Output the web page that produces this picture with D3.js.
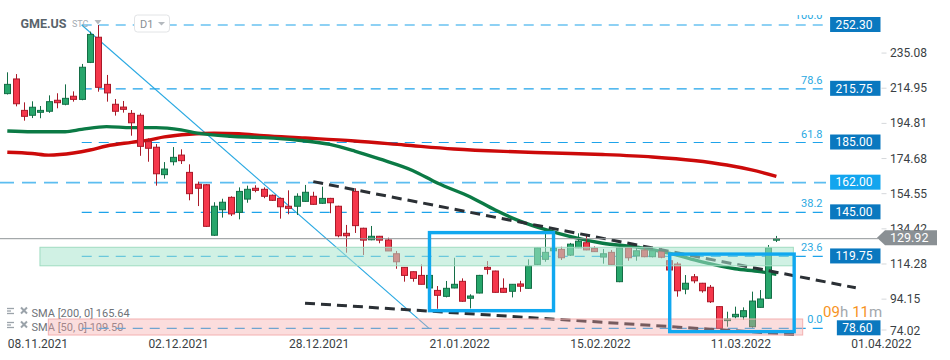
<!DOCTYPE html>
<html><head><meta charset="utf-8">
<script src="https://cdn.jsdelivr.net/npm/d3@7"></script>
<style>
body{margin:0;background:#fff;}
svg{display:block;font-family:Roboto,"Noto Sans",sans-serif;}
</style>
</head><body>
<svg id="c" width="950" height="360"></svg>
<script>
// ---------- data ----------
const ticker = "GME.US";
const opens  = [213.0,221.4,203.4,200.6,202.3,202.9,209.2,206.9,211.5,209.7,230.9,245.3,218.3,206.9,205.3,201.7,200.6,185.5,182.3,166.6,174.0,177.8,167.9,161.1,160.8,131.9,146.5,153.6,145.0,152.6,158.8,158.2,154.8,153.0,148.5,148.5,151.3,154.2,150.2,153.0,148.5,133.0,157.0,135.9,129.3,131.3,129.2,121.3,113.5,111.0,108.9,101.7,100.3,96.9,101.7,105.5,95.8,98.8,113.5,111.4,101.5,99.8,104.0,101.5,115.2,118.1,123.0,123.8,120.5,124.7,127.6,124.4,119.4,122.1,105.3,124.7,120.0,123.4,119.6,122.5,117.3,115.4,101.0,108.1,104.4,102.1,91.0,83.0,85.2,85.2,79.5,90.6,95.8,129.5];
const highs  = [225.2,224.2,208.0,208.6,205.9,212.0,213.2,218.3,214.3,230.0,248.5,252.3,223.7,209.9,208.8,203.6,201.7,187.4,184.1,173.8,182.4,181.1,172.5,162.6,161.2,150.8,152.8,154.2,159.3,160.3,160.5,159.3,155.2,153.5,157.6,155.9,160.7,156.8,159.7,153.3,148.8,137.8,158.8,136.2,137.2,131.5,130.5,122.9,113.7,111.2,115.2,108.9,102.8,105.7,119.0,107.2,98.1,109.2,117.1,111.6,107.2,103.9,105.8,118.1,125.0,133.0,125.0,125.3,127.5,133.0,131.5,125.5,124.0,123.4,124.9,124.9,125.3,125.0,123.6,124.6,117.6,116.5,109.1,109.7,104.6,103.4,91.2,88.1,91.0,90.6,99.6,100.5,126.3,131.5];
const lows   = [212.5,205.7,197.5,199.0,198.9,202.0,204.6,206.3,208.4,209.2,230.5,214.1,208.4,200.4,202.1,188.9,177.4,174.0,160.3,164.3,171.9,172.7,151.9,148.6,136.6,131.5,142.0,142.9,141.0,150.5,156.5,153.1,151.5,141.4,143.9,143.5,151.0,149.3,149.8,144.5,130.7,121.9,133.2,120.6,129.0,127.3,122.9,112.7,105.3,105.3,103.8,101.5,89.8,96.3,101.5,93.8,90.0,98.6,109.5,99.0,99.0,96.3,99.5,101.3,114.8,116.7,122.4,117.7,120.0,124.5,123.3,122.3,115.6,115.0,105.0,117.3,117.3,119.3,119.2,118.7,111.8,96.7,98.1,104.4,99.0,93.1,78.6,79.5,84.3,83.4,79.0,90.4,95.6,128.0];
const closes = [218.3,207.2,200.0,205.2,203.4,208.4,207.8,210.3,209.7,228.1,246.9,216.6,213.4,202.9,204.0,196.3,182.8,181.7,167.1,169.8,176.5,174.6,155.7,158.8,137.0,148.5,150.8,144.1,157.0,158.2,157.6,154.2,151.9,148.2,147.3,154.2,156.5,149.6,153.0,150.5,131.6,131.6,137.4,129.1,131.3,129.1,122.9,116.7,108.9,107.2,103.8,108.9,97.5,101.5,103.8,94.1,97.1,108.9,112.4,99.2,99.2,103.8,102.7,114.3,124.7,122.1,124.4,119.0,126.8,128.5,123.5,122.5,121.3,115.2,124.7,119.0,123.0,119.6,123.0,119.3,112.0,100.1,104.4,105.8,100.1,93.8,78.6,83.9,86.6,88.7,94.2,95.4,124.7,129.92];

const dateLabels   = ["08.11.2021","02.12.2021","28.12.2021","21.01.2022","15.02.2022","11.03.2022","01.04.2022"];
const dateLabelIdx = [0,17,34,51,68,85,102];
const yTicks = [235.08,214.95,194.81,174.68,154.55,134.42,114.28,94.15,74.02];

const fibLevels = ["100.0","78.6","61.8","38.2","23.6","0.0"];
const fibPrices = [252.30,215.75,185.00,145.00,119.75,78.60];
const fibStartIdx = 9, fibEndIdx = 51;       // fib anchor (high -> low)
const extraLevel = 162.00;
const lastPrice = 129.92;

const sma200Idx = [0,3,5,8,10,12,15,17,19,22,25,28,31,36,42,48,54,60,66,72,78,83,87,90,93];
const sma200Val = [179.4,178.7,177.8,179.0,180.7,183.0,185.1,186.4,188.2,189.7,190.3,190.0,188.9,187.6,185.9,183.6,181.3,179.9,179.0,178.1,176.7,174.7,172.1,169.3,165.64];
const sma50Idx  = [0,3,7,9,12,15,18,21,23,27,31,35,39,42,45,49,52,56,59,62,65,68,72,76,80,84,88,91,93];
const sma50Val  = [191.6,191.2,191.2,192.5,194.1,193.5,193.5,192.2,190.4,188.6,187.8,186.4,183.9,180.1,175.6,169.0,161.8,153.8,146.3,140.0,135.2,131.2,127.3,125.2,121.7,116.6,112.7,111.1,109.5];
const legendNames  = ["SMA [200, 0] 165.64","SMA [50, 0] 109.50"];

const trendUpperIdx = [37,102.6], trendUpperVal = [162.6,101.8];
const trendLowerIdx = [36,95.2],  trendLowerVal = [93.0,75.0];
const greenZoneIdx = [3.95,95.05], greenZoneVal = [125.0,114.4];
const redZoneIdx   = [4.96,96.18], redZoneVal   = [83.92,74.76];
const box1Idx = [51.05,66.05], box1Val = [133.4,88.7];
const box2Idx = [80.1,95.15],  box2Val = [121.1,76.7];
const timerParts = [["09","o"],["h","g"],["11","o"],["m","g"]];

// ---------- scales ----------
const svg = d3.select("#c");
const x = d3.scaleLinear().domain([0,93]).range([7.3,776.4]);
const y = d3.scaleLinear().domain([78.6,252.3]).range([328.3,25]);

const C = {
  fib:"#1ea3ea", box:"#0a78bf", boxLight:"#13a5ee", gUp:"#27a66b", gUpS:"#146e46",
  rDn:"#f5374b", rDnS:"#aa1928", sma50:"#0b7a45", sma200:"#cc0a0a", trend:"#2b3035",
  rect:"#10a8f0", axis:"#3a3f44"
};

const defs = svg.append("defs");
defs.append("clipPath").attr("id","plotclip").append("rect").attr("x",0).attr("y",15).attr("width",880).attr("height",330);

// ---------- legend (under zones) ----------
const leg = svg.append("g");
legendNames.forEach((t,k)=>{
  const yy = 316.5 + k*14;
  const ic = leg.append("g").attr("stroke","#9ba3aa").attr("stroke-width",1.3);
  [0,2.5,5].forEach(d=>ic.append("line").attr("x1",7).attr("x2",d===2.5?11:14).attr("y1",yy-8+d).attr("y2",yy-8+d));
  ic.append("line").attr("x1",21).attr("x2",27).attr("y1",yy-9).attr("y2",yy-3).attr("stroke-width",2);
  ic.append("line").attr("x1",27).attr("x2",21).attr("y1",yy-9).attr("y2",yy-3).attr("stroke-width",2);
  leg.append("text").attr("x",31.5).attr("y",yy).attr("font-size",11).attr("fill","#6e7378").text(t);
});

// ---------- fib levels ----------
const g0 = svg.append("g");
fibPrices.forEach(p=>{
  g0.append("line").attr("x1",x(fibStartIdx)).attr("x2",x(99)).attr("y1",y(p)).attr("y2",y(p))
    .attr("stroke",C.fib).attr("stroke-width",1.2).attr("stroke-dasharray","10,7");
});
g0.append("line").attr("x1",0).attr("x2",x(99)).attr("y1",y(extraLevel)).attr("y2",y(extraLevel))
  .attr("stroke","#5cbdf0").attr("stroke-width",1.8).attr("stroke-dasharray","14,8");
g0.append("line").attr("x1",x(fibStartIdx)).attr("y1",y(fibPrices[0])).attr("x2",x(fibEndIdx)).attr("y2",y(fibPrices[5]))
  .attr("stroke","#2aa9e2").attr("stroke-width",1.1);

// ---------- SMA lines ----------
const line = d3.line().x(d=>x(d[0])).y(d=>y(d[1])).curve(d3.curveMonotoneX);
svg.append("path").attr("d",line(sma200Idx.map((d,i)=>[d,sma200Val[i]]))).attr("fill","none")
  .attr("stroke",C.sma200).attr("stroke-width",3.4);
svg.append("path").attr("d",line(sma50Idx.map((d,i)=>[d,sma50Val[i]]))).attr("fill","none")
  .attr("stroke",C.sma50).attr("stroke-width",3.4);

// ---------- candles ----------
const cg = svg.append("g");
opens.forEach((o,i)=>{
  const c = closes[i], up = c>=o;
  const xc = Math.round(x(i))+0.5;
  cg.append("line").attr("x1",xc).attr("x2",xc).attr("y1",y(highs[i])).attr("y2",y(lows[i]))
    .attr("stroke",up?C.gUpS:C.rDnS).attr("stroke-width",1);
  const top = y(Math.max(o,c)), h = Math.max(1.5, Math.abs(y(o)-y(c)));
  cg.append("rect").attr("x",xc-3).attr("y",top).attr("width",6).attr("height",h)
    .attr("fill",up?C.gUp:C.rDn).attr("stroke",up?C.gUpS:C.rDnS).attr("stroke-width",1);
});

// ---------- trend lines ----------
[[trendUpperIdx,trendUpperVal],[trendLowerIdx,trendLowerVal]].forEach(([ix,vv])=>{
  svg.append("line").attr("x1",x(ix[0])).attr("y1",y(vv[0])).attr("x2",x(ix[1])).attr("y2",y(vv[1]))
    .attr("stroke",C.trend).attr("stroke-width",3).attr("stroke-dasharray","10,6");
});

// ---------- current price line ----------
svg.append("line").attr("x1",0).attr("x2",878).attr("y1",y(lastPrice)).attr("y2",y(lastPrice))
  .attr("stroke","#8f9497").attr("stroke-width",1);

// ---------- zones ----------
svg.append("rect").attr("x",x(greenZoneIdx[0])).attr("y",y(greenZoneVal[0]))
  .attr("width",x(greenZoneIdx[1])-x(greenZoneIdx[0])).attr("height",y(greenZoneVal[1])-y(greenZoneVal[0]))
  .attr("fill","rgba(170,230,205,0.55)").attr("stroke","#9fdcc0").attr("stroke-width",1);
svg.append("rect").attr("x",x(redZoneIdx[0])).attr("y",y(redZoneVal[0]))
  .attr("width",x(redZoneIdx[1])-x(redZoneIdx[0])).attr("height",y(redZoneVal[1])-y(redZoneVal[0]))
  .attr("fill","rgba(245,165,165,0.38)").attr("stroke","#f3b0b0").attr("stroke-width",1);

// ---------- blue boxes ----------
[[box1Idx,box1Val],[box2Idx,box2Val]].forEach(([ix,vv])=>{
  svg.append("rect").attr("x",x(ix[0])).attr("y",y(vv[0])).attr("width",x(ix[1])-x(ix[0]))
    .attr("height",y(vv[1])-y(vv[0])).attr("fill","none").attr("stroke",C.rect).attr("stroke-width",3.4);
});

// ---------- fib texts ----------
const ft = svg.append("g").attr("clip-path","url(#plotclip)");
fibPrices.forEach((p,k)=>{
  ft.append("text").attr("x",822.5).attr("y",y(p)-(k===0?6:5)).attr("text-anchor","end")
    .attr("font-size",11).attr("fill","#2aa9e2").text(fibLevels[k]);
});

// ---------- price boxes ----------
const boxes = fibPrices.map(p=>({v:p,light:false})).concat([{v:extraLevel,light:true}]);
boxes.forEach(b=>{
  const g = svg.append("g");
  const t = g.append("text").attr("font-size",12).attr("fill","#fff").text(b.v.toFixed(2));
  const tw = t.node().getComputedTextLength();
  const bx = 880.5-(tw+13.5), cy = y(b.v)-0.5;
  g.insert("rect","text").attr("x",bx).attr("y",cy-7.5).attr("width",tw+13.5).attr("height",15)
    .attr("fill",b.light?C.boxLight:C.box);
  t.attr("x",bx+5.5).attr("y",cy+4.3);
});

// ---------- y axis ----------
const ya = svg.append("g");
yTicks.forEach(v=>{
  const yy = Math.min(y(v),332);
  ya.append("line").attr("x1",881.5).attr("x2",886.5).attr("y1",yy-2).attr("y2",yy-2).attr("stroke","#d5d8db");
  ya.append("text").attr("x",890).attr("y",Math.min(y(v)+2,334.5)).attr("font-size",12).attr("fill",C.axis).text(v.toFixed(2));
});

// ---------- last price tag ----------
const ly = y(lastPrice)-1;
svg.append("path").attr("d",`M877,${ly} L885,${ly-7.5} L937,${ly-7.5} L937,${ly+7.5} L885,${ly+7.5} Z`).attr("fill","#8a9094");
svg.append("text").attr("x",890).attr("y",ly+4.3).attr("font-size",12.5).attr("fill","#fff").text(lastPrice.toFixed(2));

// ---------- x axis labels ----------
dateLabels.forEach((t,k)=>{
  svg.append("text").attr("x",x(dateLabelIdx[k])+0.5).attr("y",347.5).attr("font-size",12).attr("fill",C.axis).text(t);
});

// ---------- timer ----------
const tt = svg.append("text").attr("x",823).attr("y",316.5).attr("font-size",15);
timerParts.forEach(([s,c],k)=>tt.append("tspan").attr("dx",k===2?4:0)
  .attr("fill",c==="o"?"#f7931e":"#a3a8ad").text(s));

// ---------- header ----------
svg.append("text").attr("x",20.5).attr("y",28).attr("font-size",12.5).attr("font-weight","bold").attr("fill","#59636b").text(ticker);
svg.append("text").attr("x",72).attr("y",27).attr("font-size",9).attr("fill","#a4acb3").text("STC");
svg.append("path").attr("d","M94.5,20 L101.5,20 L98,24.5 Z").attr("fill","#b4b9be");
svg.append("rect").attr("x",134.5).attr("y",15).attr("width",35).attr("height",17).attr("rx",3)
  .attr("fill","#fff").attr("stroke","#e2e4e6");
svg.append("text").attr("x",140).attr("y",27.5).attr("font-size",11).attr("fill","#8a9096").text("D1");
svg.append("path").attr("d","M158,22 L165,22 L161.5,25.5 Z").attr("fill","#b4b9be");
</script>
</body></html>
